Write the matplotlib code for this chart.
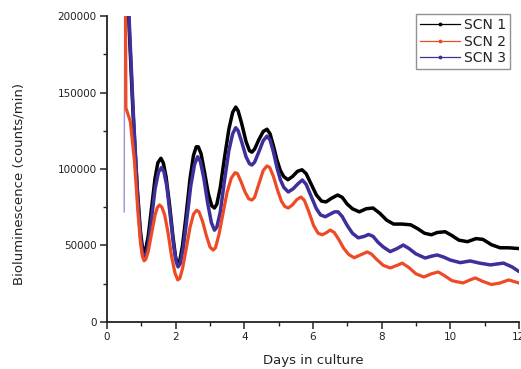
import matplotlib
matplotlib.use("Agg")
import matplotlib.pyplot as plt
from matplotlib.lines import Line2D
from matplotlib.ticker import MultipleLocator

# ---- data: (day, counts/min in thousands) ----
scn1 = [(0.56, 235), (0.75, 140), (0.88, 88), (0.97, 60), (1.03, 49), (1.08, 46), (1.13, 48),
        (1.2, 56), (1.3, 75), (1.4, 94), (1.48, 104), (1.57, 107), (1.64, 104), (1.72, 95),
        (1.82, 77), (1.92, 56), (2.0, 42), (2.06, 38), (2.12, 40), (2.2, 50), (2.3, 69),
        (2.42, 94), (2.52, 109), (2.6, 114.5), (2.66, 114.5), (2.74, 110), (2.84, 98),
        (2.95, 84), (3.05, 76), (3.13, 74.5), (3.2, 77), (3.3, 88), (3.42, 107), (3.55, 126),
        (3.66, 137), (3.75, 140.5), (3.82, 138), (3.92, 130), (4.05, 118), (4.15, 112),
        (4.22, 111), (4.3, 113), (4.42, 119), (4.55, 124.5), (4.66, 126), (4.75, 123),
        (4.85, 115), (4.95, 106), (5.05, 99), (5.15, 95), (5.27, 93), (5.4, 95), (5.55, 98.5),
        (5.68, 99.5), (5.8, 97), (5.95, 90), (6.1, 83), (6.25, 79), (6.38, 78.5), (6.55, 81),
        (6.72, 83), (6.85, 81.5), (7.0, 77), (7.15, 74), (7.35, 72), (7.55, 74), (7.75, 74.5),
        (7.95, 71), (8.15, 66.5), (8.35, 64), (8.6, 64), (8.85, 63.5), (9.05, 61), (9.25, 58),
        (9.45, 57), (9.62, 58.5), (9.85, 59), (10.05, 56.5), (10.25, 53.5), (10.5, 52.5),
        (10.75, 54.5), (10.95, 54), (11.2, 50.5), (11.45, 48.5), (11.7, 48.5), (12.0, 48)]

scn2 = [(0.53, 250), (0.55, 140), (0.68, 131), (0.8, 105), (0.9, 72), (0.97, 53), (1.03, 43),
        (1.08, 40), (1.13, 41), (1.2, 46), (1.3, 58), (1.4, 70), (1.47, 75), (1.53, 76.5),
        (1.6, 75), (1.68, 70), (1.78, 58), (1.88, 43), (1.98, 32), (2.06, 27.5), (2.12, 28.5),
        (2.2, 35), (2.3, 47), (2.42, 62), (2.52, 70.5), (2.61, 73), (2.68, 72), (2.78, 66),
        (2.9, 56), (3.0, 49), (3.09, 47), (3.16, 48.5), (3.26, 57), (3.38, 71), (3.5, 85),
        (3.62, 94), (3.73, 97.6), (3.8, 97), (3.9, 92), (4.02, 85), (4.13, 80.5), (4.22, 79.7),
        (4.3, 81.5), (4.42, 90), (4.55, 99), (4.66, 102), (4.74, 101), (4.85, 95), (4.97, 86),
        (5.08, 79), (5.18, 75.5), (5.28, 74.5), (5.4, 76.5), (5.53, 80), (5.65, 81.7),
        (5.75, 79.5), (5.88, 72), (6.02, 63), (6.15, 58), (6.27, 57), (6.4, 58.5), (6.5, 60.1),
        (6.62, 58.5), (6.75, 54), (6.9, 48), (7.05, 44), (7.2, 42), (7.4, 44), (7.58, 45.8),
        (7.7, 44.5), (7.85, 41), (8.05, 37), (8.25, 35.3), (8.45, 37), (8.6, 38.5), (8.8, 35.5),
        (9.0, 31.5), (9.23, 29.4), (9.45, 31.5), (9.65, 32.7), (9.85, 30), (10.05, 27),
        (10.37, 25.5), (10.58, 27.5), (10.73, 28.8), (10.95, 26.5), (11.2, 24.5), (11.45, 25.5),
        (11.7, 27.5), (11.85, 26.5), (12.0, 25.5)]

scn3 = [(0.50, 72), (0.52, 250), (0.58, 230), (0.77, 135), (0.88, 86), (0.97, 57), (1.03, 45),
        (1.08, 42), (1.13, 43.5), (1.2, 50), (1.3, 68), (1.4, 87), (1.5, 98), (1.59, 101),
        (1.66, 98), (1.74, 89), (1.84, 70), (1.94, 50), (2.02, 39), (2.07, 36), (2.13, 38),
        (2.22, 48), (2.32, 66), (2.44, 89), (2.55, 103), (2.64, 108), (2.72, 105), (2.82, 94),
        (2.93, 78), (3.04, 65), (3.13, 60), (3.2, 62), (3.3, 72), (3.42, 92), (3.55, 112),
        (3.66, 123), (3.75, 127), (3.82, 125), (3.92, 118), (4.05, 108), (4.15, 103.5),
        (4.22, 102.6), (4.3, 104.5), (4.42, 111), (4.55, 118.5), (4.66, 121.5), (4.75, 119),
        (4.85, 111), (4.95, 101), (5.05, 93), (5.15, 88), (5.28, 85), (5.42, 87), (5.57, 90.5),
        (5.69, 92.8), (5.8, 90), (5.95, 82), (6.1, 74), (6.22, 70), (6.36, 68.8), (6.5, 70.5),
        (6.63, 72), (6.73, 72), (6.85, 69), (7.0, 63), (7.15, 58), (7.32, 55), (7.5, 56),
        (7.62, 57.2), (7.75, 56), (7.9, 52), (8.05, 49), (8.25, 46), (8.45, 48), (8.63, 50.3),
        (8.8, 48), (9.0, 44.5), (9.27, 41.8), (9.45, 43), (9.62, 43.8), (9.8, 42.5), (10.0, 40.5),
        (10.29, 38.8), (10.58, 39.9), (10.85, 38.5), (11.17, 37.3), (11.55, 38.5), (11.8, 36),
        (12.0, 33)]

labels = ["SCN 1", "SCN 2", "SCN 3"]
colors = ["#000000", "#ef4a26", "#3d309c"]
xticks = [0, 2, 4, 6, 8, 10, 12]
yticks = [0, 50000, 100000, 150000, 200000]


def split(series):
    d = [p[0] for p in series]
    v = [p[1] * 1000.0 for p in series]
    return d, v


d1, v1 = split(scn1)
d2, v2 = split(scn2)
d3, v3 = split(scn3)

# ---- figure ----
fig = plt.figure(figsize=(5.21, 3.69), dpi=100)
ax = fig.add_axes([0.2054, 0.1274, 0.7906, 0.8292])

kw = dict(solid_joinstyle="round", solid_capstyle="round")
ax.plot(d1, v1, color=colors[0], lw=2.5, zorder=3, **kw)
ax.plot(d3[:2], v3[:2], color="#9c8fd3", lw=1.0, zorder=2)   # thin first segment of SCN 3
ax.plot(d3[1:], v3[1:], color=colors[2], lw=2.5, zorder=4, **kw)
ax.plot(d2, v2, color=colors[1], lw=2.3, zorder=5, **kw)

ax.set_xlim(0, 12)
ax.set_ylim(0, 200000)
ax.set_xticks(xticks)
ax.set_yticks(yticks)
ax.set_xticklabels([str(t) for t in xticks])
ax.set_yticklabels([str(t) for t in yticks])
ax.xaxis.set_minor_locator(MultipleLocator(1))
ax.yaxis.set_minor_locator(MultipleLocator(25000))

for s in ["top", "right"]:
    ax.spines[s].set_visible(False)
for s in ["left", "bottom"]:
    ax.spines[s].set_linewidth(1.3)
    ax.spines[s].set_color("#222222")

ax.tick_params(axis="both", which="major", direction="out", length=5, width=1.1,
               labelsize=7.5, pad=2.5, colors="#222222")
ax.tick_params(axis="both", which="minor", direction="out", length=3, width=1.0,
               colors="#222222")

ax.set_xlabel("Days in culture", fontsize=9.5, color="#222222", labelpad=8)
ax.set_ylabel("Bioluminescence (counts/min)", fontsize=9.5, color="#222222")
ax.yaxis.set_label_coords(-0.198, 0.45)

handles = [Line2D([0], [0], color=c, lw=0.9, marker=".", markersize=3.5) for c in colors]
leg = ax.legend(handles, labels, loc="upper right", bbox_to_anchor=(0.978, 1.008),
                borderaxespad=0, fontsize=10, frameon=True, fancybox=False,
                handlelength=2.9, handletextpad=0.25, labelspacing=0.2, borderpad=0.3)
leg.get_frame().set_edgecolor("#777777")
leg.get_frame().set_linewidth(1.0)
for t in leg.get_texts():
    t.set_color("#222222")

fig.savefig("out.png", dpi=100)
